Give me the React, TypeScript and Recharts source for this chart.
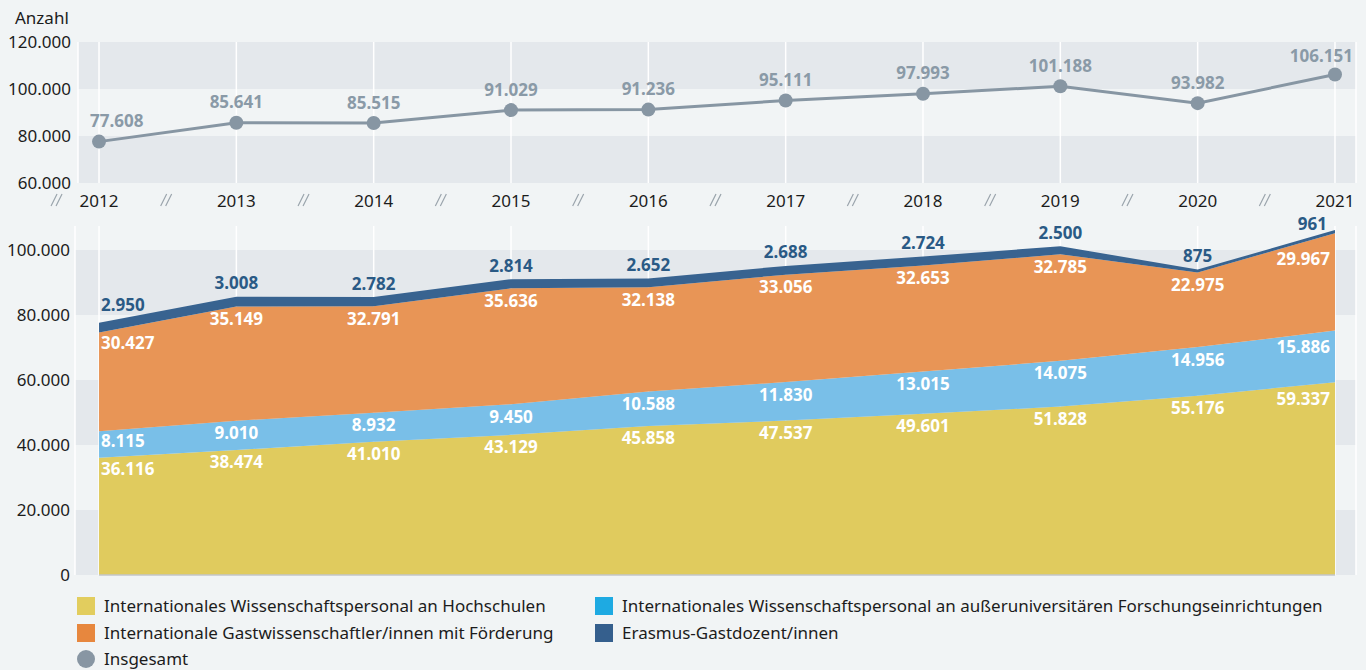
import React from 'react';
import {
  LineChart,
  Line,
  AreaChart,
  Area,
  XAxis,
  YAxis,
  CartesianGrid,
  LabelList,
  ReferenceLine,
} from 'recharts';

// ---------- data ----------
const years = [2012, 2013, 2014, 2015, 2016, 2017, 2018, 2019, 2020, 2021];
const hochschulen = [36116, 38474, 41010, 43129, 45858, 47537, 49601, 51828, 55176, 59337];
const ausseruni = [8115, 9010, 8932, 9450, 10588, 11830, 13015, 14075, 14956, 15886];
const gastwiss = [30427, 35149, 32791, 35636, 32138, 33056, 32653, 32785, 22975, 29967];
const erasmus = [2950, 3008, 2782, 2814, 2652, 2688, 2724, 2500, 875, 961];
const insgesamt = [77608, 85641, 85515, 91029, 91236, 95111, 97993, 101188, 93982, 106151];

const topTicks = [60000, 80000, 100000, 120000];
const bottomTicks = [0, 20000, 40000, 60000, 80000, 100000];

const legendItems = [
  { label: 'Internationales Wissenschaftspersonal an Hochschulen', color: '#e2cd5e', shape: 'square' },
  { label: 'Internationales Wissenschaftspersonal an außeruniversitären Forschungseinrichtungen', color: '#1eaae2', shape: 'square' },
  { label: 'Internationale Gastwissenschaftler/innen mit Förderung', color: '#e7873e', shape: 'square' },
  { label: 'Erasmus-Gastdozent/innen', color: '#355f8d', shape: 'square' },
  { label: 'Insgesamt', color: '#8896a3', shape: 'circle' },
];

// ---------- styling ----------
const FONT = '"Source Sans Pro", "Noto Sans", "Open Sans", sans-serif';
const BG = '#f1f4f5';
const BAND = '#e4e8ec';
const C_YELLOW = '#e0cb5e';
const C_LIGHTBLUE = '#79bfe8';
const C_ORANGE = '#e89556';
const C_DARKBLUE = '#386390';
const C_LINE = '#8796a3';
const C_LINELABEL = '#8a9aa7';
const C_DBLABEL = '#2a5a85';
const YEAR_SPACING = 137.33;

const fmt = (n: number) => String(n).replace(/\B(?=(\d{3})+(?!\d))/g, '.');

const topData = years.map((y, i) => ({ year: y, total: insgesamt[i] }));
const bottomData = years.map((y, i) => ({
  year: y,
  hs: hochschulen[i],
  au: ausseruni[i],
  gw: gastwiss[i],
  er: erasmus[i],
}));

const getXY = (props: any) => {
  const x = props.x ?? props.viewBox?.x ?? 0;
  const y = props.y ?? props.viewBox?.y ?? 0;
  return { x: Number(x), y: Number(y) };
};

const TopLabel = (props: any) => {
  const { index } = props;
  const { x, y } = getXY(props);
  const last = index === years.length - 1;
  const anchor = index === 0 ? 'start' : last ? 'end' : 'middle';
  const dx = index === 0 ? -9 : last ? 18 : 0;
  const dy = last ? -19 : -21;
  return (
    <text
      x={x + dx}
      y={y + dy}
      textAnchor={anchor}
      dominantBaseline="central"
      fill={C_LINELABEL}
      fontFamily={FONT}
      fontWeight={700}
      fontSize={17}
    >
      {fmt(insgesamt[index])}
    </text>
  );
};

const makeAreaLabel =
  (values: number[], color: string, dy: number, dyFirst: number, dyLast: number, dxLast = -5) =>
  (props: any) => {
    const { index } = props;
    const { x, y } = getXY(props);
    const first = index === 0;
    const last = index === years.length - 1;
    const anchor = first ? 'start' : last ? 'end' : 'middle';
    const dx = first ? 2 : last ? dxLast : 0;
    const off = first ? dyFirst : last ? dyLast : dy;
    return (
      <text
        x={x + dx}
        y={y + off}
        textAnchor={anchor}
        dominantBaseline="central"
        fill={color}
        fontFamily={FONT}
        fontWeight={700}
        fontSize={17}
      >
        {fmt(values[index])}
      </text>
    );
  };

const YearTick = (props: any) => {
  const { x, y, payload, index } = props;
  const gap = index === 0 ? 41 : YEAR_SPACING / 2;
  const cx = x - gap;
  const cy = y + 17;
  return (
    <g>
      <text
        x={x}
        y={cy}
        textAnchor="middle"
        dominantBaseline="central"
        fill="#1c1c1c"
        fontFamily={FONT}
        fontSize={17}
      >
        {payload.value}
      </text>
      <line x1={cx - 7} y1={cy + 6} x2={cx - 1} y2={cy - 6} stroke="#9aa4ac" strokeWidth={1.2} />
      <line x1={cx - 2} y1={cy + 6} x2={cx + 4} y2={cy - 6} stroke="#9aa4ac" strokeWidth={1.2} />
    </g>
  );
};

const yTickStyle = { fill: '#1c1c1c', fontFamily: FONT, fontSize: 17 };

export default function App() {
  return (
    <div
      style={{
        position: 'absolute',
        left: 0,
        top: 0,
        width: 1366,
        height: 670,
        background: BG,
        fontFamily: FONT,
        overflow: 'hidden',
      }}
    >
      <div
        style={{
          position: 'absolute',
          left: 15,
          top: 7,
          fontSize: 17,
          color: '#1c1c1c',
          lineHeight: '22px',
        }}
      >
        Anzahl
      </div>

      {/* Top chart: Insgesamt */}
      <div style={{ position: 'absolute', left: 0, top: 0 }}>
        <LineChart
          width={1366}
          height={215}
          data={topData}
          margin={{ top: 42, right: 10, bottom: 0, left: 0 }}
        >
          <CartesianGrid
            vertical={false}
            stroke="transparent"
            horizontalFill={[BAND, 'transparent']}
          />
          <CartesianGrid horizontal={false} stroke="#ffffff" strokeWidth={1.5} />
          <XAxis
            dataKey="year"
            type="number"
            domain={[2011.847, 2021.153]}
            ticks={years}
            allowDataOverflow
            axisLine={false}
            tickLine={false}
            tickSize={0}
            tickMargin={0}
            height={32}
            interval={0}
            tick={<YearTick />}
          />
          <YAxis
            domain={[60000, 120000]}
            ticks={topTicks}
            allowDataOverflow
            width={78}
            axisLine={false}
            tickLine={false}
            tickSize={0}
            tickMargin={7}
            tickFormatter={fmt}
            tick={yTickStyle}
            interval={0}
          />
          <Line
            dataKey="total"
            stroke={C_LINE}
            strokeWidth={3}
            dot={{ r: 7, fill: C_LINE, stroke: 'none' }}
            isAnimationActive={false}
          >
            <LabelList dataKey="total" content={<TopLabel />} />
          </Line>
        </LineChart>
      </div>

      {/* Bottom chart: stacked areas */}
      <div style={{ position: 'absolute', left: 0, top: 205 }}>
        <AreaChart
          width={1366}
          height={380}
          data={bottomData}
          margin={{ top: 21, right: 10, bottom: 10, left: 0 }}
        >
          <CartesianGrid
            vertical={false}
            stroke="transparent"
            horizontalFill={['transparent', BAND]}
          />
          <CartesianGrid horizontal={false} stroke="#ffffff" strokeWidth={1.5} />
          <XAxis
            dataKey="year"
            type="number"
            domain={[2011.825, 2021.153]}
            ticks={years}
            allowDataOverflow
            hide
          />
          <YAxis
            domain={[0, 107400]}
            ticks={bottomTicks}
            allowDataOverflow
            width={75}
            axisLine={false}
            tickLine={false}
            tickSize={0}
            tickMargin={5}
            tickFormatter={fmt}
            tick={yTickStyle}
            interval={0}
          />
          <Area
            type="linear"
            dataKey="hs"
            stackId="s"
            fill={C_YELLOW}
            fillOpacity={1}
            stroke="none"
            isAnimationActive={false}
          >
            <LabelList dataKey="hs" content={makeAreaLabel(hochschulen, '#ffffff', 12, 11, 16)} />
          </Area>
          <Area
            type="linear"
            dataKey="au"
            stackId="s"
            fill={C_LIGHTBLUE}
            fillOpacity={1}
            stroke="none"
            isAnimationActive={false}
          >
            <LabelList dataKey="au" content={makeAreaLabel(ausseruni, '#ffffff', 12, 9, 16)} />
          </Area>
          <Area
            type="linear"
            dataKey="gw"
            stackId="s"
            fill={C_ORANGE}
            fillOpacity={1}
            stroke="none"
            isAnimationActive={false}
          >
            <LabelList dataKey="gw" content={makeAreaLabel(gastwiss, '#ffffff', 12, 10, 25)} />
          </Area>
          <Area
            type="linear"
            dataKey="er"
            stackId="s"
            fill={C_DARKBLUE}
            fillOpacity={1}
            stroke="none"
            isAnimationActive={false}
          >
            <LabelList dataKey="er" content={makeAreaLabel(erasmus, C_DBLABEL, -14, -18, -7, -8)} />
          </Area>
          <ReferenceLine
            segment={[
              { x: years[0], y: 0 },
              { x: years[years.length - 1], y: 0 },
            ]}
            stroke="#c3c6c8"
            strokeWidth={1.5}
            ifOverflow="visible"
          />
        </AreaChart>
      </div>

      {/* Legend */}
      {legendItems.map((item, i) => {
        const col = i === 4 ? 0 : i % 2;
        const row = i === 4 ? 2 : Math.floor(i / 2);
        const left = col === 0 ? 77 : 595;
        const cy = 606 + row * 26.5;
        return (
          <div
            key={item.label}
            style={{
              position: 'absolute',
              left,
              top: cy - 11,
              height: 22,
              display: 'flex',
              alignItems: 'center',
              whiteSpace: 'nowrap',
            }}
          >
            <div
              style={{
                width: 18,
                height: 18,
                background: item.color,
                borderRadius: item.shape === 'circle' ? '50%' : 0,
                marginRight: 9,
              }}
            />
            <span style={{ fontSize: 17, color: '#1c1c1c', lineHeight: '22px' }}>{item.label}</span>
          </div>
        );
      })}
    </div>
  );
}
